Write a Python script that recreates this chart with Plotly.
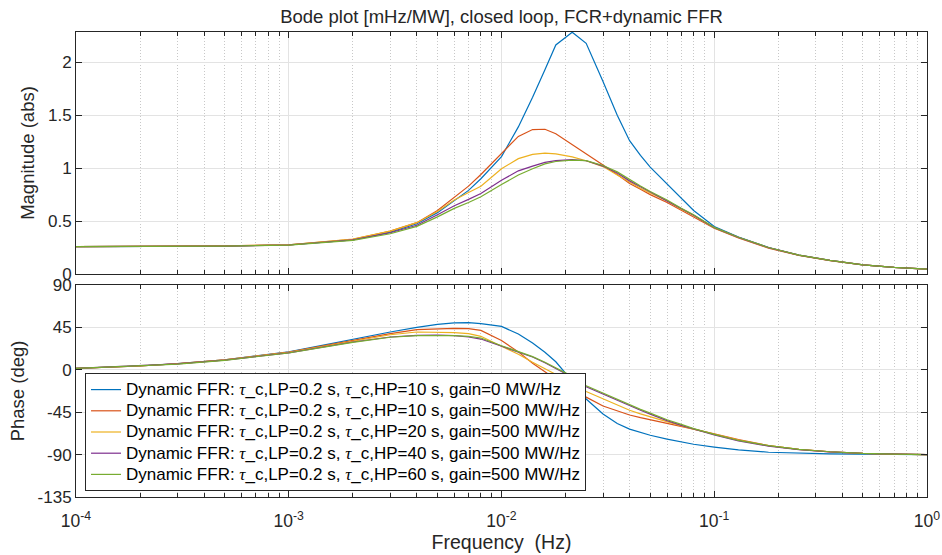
import plotly.graph_objects as go

# ---------------- data ----------------
freq_hz = [1e-4, 2e-4, 3e-4, 5e-4, 1e-3, 2e-3, 3e-3, 4e-3, 5e-3, 6e-3, 7e-3, 8e-3,
           0.01, 0.012, 0.014, 0.016, 0.018, 0.0215, 0.025, 0.03, 0.035, 0.04, 0.045,
           0.05, 0.06, 0.07, 0.08, 0.1, 0.13, 0.18, 0.25, 0.35, 0.5, 0.7, 1.0]

series_names = [
    "Dynamic FFR: τ_c,LP=0.2 s, τ_c,HP=10 s, gain=0 MW/Hz",
    "Dynamic FFR: τ_c,LP=0.2 s, τ_c,HP=10 s, gain=500 MW/Hz",
    "Dynamic FFR: τ_c,LP=0.2 s, τ_c,HP=20 s, gain=500 MW/Hz",
    "Dynamic FFR: τ_c,LP=0.2 s, τ_c,HP=40 s, gain=500 MW/Hz",
    "Dynamic FFR: τ_c,LP=0.2 s, τ_c,HP=60 s, gain=500 MW/Hz",
]

mag_hp10_gain0 = [0.258, 0.259, 0.261, 0.264, 0.275, 0.322, 0.395, 0.475, 0.58, 0.69, 0.79, 0.90,
                  1.11, 1.39, 1.67, 1.93, 2.165, 2.285, 2.18, 1.82, 1.50, 1.26, 1.12,
                  1.01, 0.85, 0.71, 0.60, 0.449, 0.35, 0.25, 0.178, 0.128, 0.086, 0.062, 0.045]
mag_hp10_gain500 = [0.258, 0.259, 0.261, 0.265, 0.276, 0.328, 0.405, 0.485, 0.60, 0.72, 0.83, 0.94,
                    1.14, 1.30, 1.365, 1.368, 1.326, 1.225, 1.14, 1.03, 0.94, 0.855, 0.80,
                    0.75, 0.675, 0.60, 0.54, 0.432, 0.34, 0.245, 0.176, 0.127, 0.086, 0.062, 0.045]
mag_hp20_gain500 = [0.258, 0.259, 0.261, 0.265, 0.276, 0.33, 0.405, 0.485, 0.59, 0.70, 0.77, 0.83,
                    0.995, 1.09, 1.13, 1.143, 1.135, 1.107, 1.07, 1.015, 0.935, 0.865, 0.81,
                    0.765, 0.69, 0.612, 0.552, 0.436, 0.345, 0.248, 0.178, 0.128, 0.086, 0.062, 0.045]
mag_hp40_gain500 = [0.258, 0.259, 0.261, 0.264, 0.274, 0.322, 0.39, 0.46, 0.56, 0.645, 0.705, 0.76,
                    0.885, 0.975, 1.02, 1.055, 1.072, 1.08, 1.07, 1.02, 0.955, 0.88, 0.825,
                    0.775, 0.695, 0.617, 0.556, 0.438, 0.346, 0.249, 0.178, 0.128, 0.086, 0.062, 0.045]
mag_hp60_gain500 = [0.258, 0.259, 0.26, 0.263, 0.273, 0.318, 0.38, 0.45, 0.54, 0.62, 0.675, 0.73,
                    0.845, 0.935, 0.995, 1.04, 1.063, 1.076, 1.072, 1.025, 0.965, 0.89, 0.832,
                    0.78, 0.70, 0.622, 0.56, 0.44, 0.347, 0.25, 0.179, 0.128, 0.086, 0.062, 0.045]

ph_hp10_gain0 = [1.5, 4, 6.5, 10.5, 19, 32.6, 40.1, 45, 48.2, 49.7, 50, 48.9,
                 46, 38, 28.5, 18.6, 8.5, -12, -31, -47, -57, -63, -66.8,
                 -69.5, -73.5, -76.5, -79, -82, -85, -87.5, -88.6, -89.3, -89.6, -89.8, -90]
ph_hp10_gain500 = [1.5, 4, 6.5, 10.5, 18.8, 31.5, 38.3, 42.6, 43.6, 44, 43.6, 41.8,
                   31, 19, 7, -2, -10, -20, -29, -38.5, -44, -48, -50.8,
                   -53, -56.5, -60, -63, -68, -74, -80.5, -84.5, -87.2, -88.8, -89.5, -90]
ph_hp20_gain500 = [1.5, 4, 6.4, 10.5, 18.5, 30.5, 37.2, 40.1, 40.1, 39.4, 38.3, 35.5,
                   25, 16.5, 8, 1, -4.5, -14, -23, -31, -37.5, -43, -46.8,
                   -50, -55, -59.5, -63, -68.5, -74.5, -80.5, -84.5, -87, -88.7, -89.5, -90]
ph_hp40_gain500 = [1.5, 4, 6.2, 10.3, 18, 29.5, 34.8, 36.5, 36.9, 36.2, 34.8, 32.6,
                   25, 19, 13.5, 7.5, 1.5, -8, -18, -26, -32.5, -38.5, -43,
                   -47, -54, -59, -63, -69, -75.5, -81, -84.8, -87.2, -88.8, -89.5, -90]
ph_hp60_gain500 = [1.5, 4, 6, 10, 17.8, 29, 34.5, 36.2, 36.5, 36.2, 35.5, 33.7,
                   25.5, 19.5, 14, 8, 2, -7, -17, -25, -31.5, -37.5, -42,
                   -46, -53, -58, -62.5, -68.5, -75, -80.5, -84.5, -87, -88.7, -89.5, -90]

magnitudes = [mag_hp10_gain0, mag_hp10_gain500, mag_hp20_gain500, mag_hp40_gain500, mag_hp60_gain500]
phases = [ph_hp10_gain0, ph_hp10_gain500, ph_hp20_gain500, ph_hp40_gain500, ph_hp60_gain500]

x_tick_vals = [1e-4, 1e-3, 1e-2, 1e-1, 1]
x_tick_text = ["10<sup>-4</sup>", "10<sup>-3</sup>", "10<sup>-2</sup>", "10<sup>-1</sup>", "10<sup>0</sup>"]
x_minor_vals = [k * 10.0 ** n for n in range(-4, 0) for k in range(2, 10)]
mag_tick_vals = [0, 0.5, 1, 1.5, 2]
mag_tick_text = ["0", "0.5", "1", "1.5", "2"]
ph_tick_vals = [-135, -90, -45, 0, 45, 90]
ph_tick_text = ["-135", "-90", "-45", "0", "45", "90"]

# ---------------- style ----------------
colors = ["#0072BD", "#D95319", "#EDB120", "#7E2F8E", "#77AC30"]
AX = "#262626"
FONT = "Liberation Sans, Arial, Helvetica, sans-serif"
TAU = "<span style=\"font-family:'Liberation Serif', 'DejaVu Serif', serif\"><i>τ</i></span>"


def legend_label(name):
    return "<span style=\"font-size:17px\">" + name.replace("τ", TAU) + "</span>"


fig = go.Figure()
for i in range(len(series_names)):
    fig.add_trace(go.Scatter(x=freq_hz, y=magnitudes[i], mode="lines",
                             line=dict(color=colors[i], width=1.2),
                             xaxis="x", yaxis="y", showlegend=False,
                             name=series_names[i]))
for i in range(len(series_names)):
    fig.add_trace(go.Scatter(x=freq_hz, y=phases[i], mode="lines",
                             line=dict(color=colors[i], width=1.2),
                             xaxis="x2", yaxis="y2", showlegend=True,
                             name=legend_label(series_names[i])))

common_x = dict(
    type="log", range=[-4, 0], tickmode="array", tickvals=x_tick_vals, ticktext=x_tick_text,
    ticks="inside", ticklen=6, tickcolor=AX, tickwidth=1,
    showline=True, linecolor=AX, linewidth=1, mirror="ticks",
    showgrid=True, gridcolor="#e3e3e3", gridwidth=1, zeroline=False, automargin=False,
    minor=dict(tickmode="array", tickvals=x_minor_vals, ticks="inside", ticklen=4,
               tickcolor=AX, showgrid=True, gridcolor="#c8c8c8", griddash="1px,2px", gridwidth=1),
    tickfont=dict(family=FONT, size=17.5, color=AX),
)
common_y = dict(
    ticks="inside", ticklen=6, tickcolor=AX, tickwidth=1,
    showline=True, linecolor=AX, linewidth=1, mirror="ticks",
    showgrid=True, gridcolor="#e3e3e3", gridwidth=1, zeroline=False, automargin=False,
    tickfont=dict(family=FONT, size=17, color=AX),
)

fig.update_layout(
    width=942, height=555,
    margin=dict(l=76, r=15, t=32, b=58),
    paper_bgcolor="white", plot_bgcolor="white",
    font=dict(family=FONT, color=AX, size=17),
    title=dict(text="Bode plot [mHz/MW], closed loop, FCR+dynamic FFR",
               x=0.5, xref="paper", xanchor="center",
               y=1 - 17 / 555, yref="container", yanchor="middle",
               font=dict(family=FONT, size=18.5, color=AX)),
    xaxis=dict(common_x, domain=[0, 1], anchor="y", showticklabels=False),
    yaxis=dict(common_y, domain=[0.4796, 1], anchor="x", range=[0, 2.287],
               tickmode="array", tickvals=mag_tick_vals, ticktext=mag_tick_text,
               title=dict(text="Magnitude (abs)", standoff=8,
                          font=dict(family=FONT, size=18.5, color=AX))),
    xaxis2=dict(common_x, domain=[0, 1], anchor="y2", showticklabels=True,
                ticklabelstandoff=8,
                title=dict(text="Frequency&nbsp; (Hz)", standoff=4,
                           font=dict(family=FONT, size=19.5, color=AX))),
    yaxis2=dict(common_y, domain=[0, 0.456], anchor="x2", range=[-135, 90],
                tickmode="array", tickvals=ph_tick_vals, ticktext=ph_tick_text,
                title=dict(text="Phase (deg)", standoff=8,
                           font=dict(family=FONT, size=18.5, color=AX))),
    legend=dict(x=0.0106, y=(497 - 373) / 465, xref="paper", yref="paper",
                xanchor="left", yanchor="top",
                bgcolor="white", bordercolor=AX, borderwidth=1,
                font=dict(family=FONT, size=14, color="#000000"),
                tracegroupgap=0, itemwidth=30),
)

fig.write_html("out.html")
